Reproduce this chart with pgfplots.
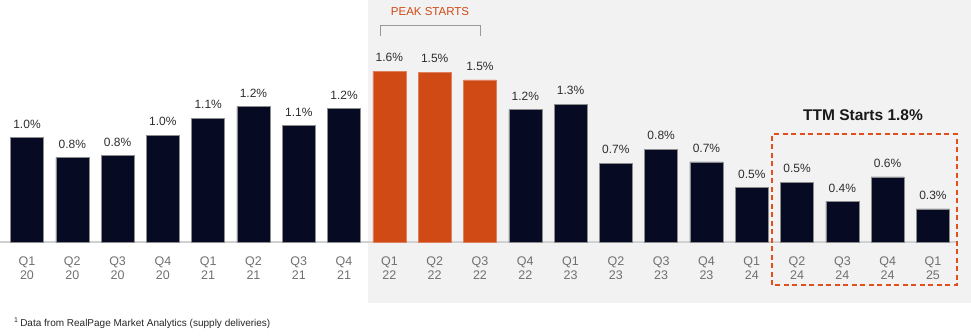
\documentclass[border=0pt]{standalone}
\usepackage{fontspec}
\setmainfont{Liberation Sans}
\usepackage{pgfplots}
\usepackage{pgfplotstable}
\pgfplotsset{compat=1.18}
\definecolor{navy}{HTML}{060B23}
\definecolor{rorange}{HTML}{D04A16}
\definecolor{boxorange}{HTML}{E0501F}
\definecolor{bggray}{HTML}{F2F2F2}
\definecolor{ticktext}{HTML}{707070}
\definecolor{valtext}{HTML}{2E2E2E}

\pgfplotstableread{
x y label
0 0.98 1.0\%
1 0.79 0.8\%
2 0.81 0.8\%
3 1.00 1.0\%
4 1.16 1.1\%
5 1.27 1.2\%
6 1.09 1.1\%
7 1.25 1.2\%
11 1.24 1.2\%
12 1.29 1.3\%
13 0.74 0.7\%
14 0.87 0.8\%
15 0.75 0.7\%
16 0.51 0.5\%
17 0.56 0.5\%
18 0.38 0.4\%
19 0.61 0.6\%
20 0.31 0.3\%
}\navydata

\pgfplotstableread{
x y label
8 1.60 1.6\%
9 1.59 1.5\%
10 1.52 1.5\%
}\peakdata

\begin{document}
\begin{tikzpicture}[x=1pt,y=1pt]
% gray background panel
\fill[bggray] (368,-60.7) rectangle (971,242);
% baseline
\draw[draw=black!18, line width=1.2pt] (0,0) -- (957,0);
\begin{axis}[
  at={(0,0)}, anchor=south west,
  scale only axis,
  width=971pt, height=242pt,
  xmin=-0.596, xmax=20.84,
  ymin=0, ymax=2.268,
  clip=false,
  axis line style={draw=none},
  tick style={draw=none},
  ytick=\empty,
  xtick={0,...,20},
  xticklabels={{Q1\\20},{Q2\\20},{Q3\\20},{Q4\\20},{Q1\\21},{Q2\\21},{Q3\\21},{Q4\\21},{Q1\\22},{Q2\\22},{Q3\\22},{Q4\\22},{Q1\\23},{Q2\\23},{Q3\\23},{Q4\\23},{Q1\\24},{Q2\\24},{Q3\\24},{Q4\\24},{Q1\\25}},
  xticklabel style={align=center, font=\fontsize{12.5}{13.8}\selectfont, text=ticktext, yshift=-7pt},
  ybar, bar width=33pt, bar shift=0pt,
  nodes near coords,
  point meta=explicit symbolic,
  every node near coord/.append style={font=\fontsize{12}{14}\selectfont, text=valtext, inner sep=0pt, anchor=south, yshift=9pt},
]
\addplot[fill=navy, draw=black!45, line width=0.5pt] table[x=x, y=y, meta=label] {\navydata};
\addplot[fill=rorange, draw=rorange!70!white, line width=0.5pt] table[x=x, y=y, meta=label] {\peakdata};
\end{axis}
% Peak starts annotation
\node[font=\fontsize{11.5}{13}\selectfont, text=rorange] at (430,230) {PEAK STARTS};
\draw[black!40, line width=0.7pt] (380,206) -- (380,217) -- (480,217) -- (480,206);
% TTM box
\draw[boxorange, line width=1.8pt, dash pattern=on 5pt off 3.5pt] (771.7,-43) rectangle (956.7,107.7);
\node[font=\bfseries\fontsize{15.5}{17}\selectfont, text=black!90] at (863,127) {TTM Starts 1.8\%};
% footnote
\node[anchor=west, font=\fontsize{10}{12}\selectfont, text=black!85, inner sep=0pt] at (14,-81) {\textsuperscript{1}\,Data from RealPage Market Analytics (supply deliveries)};
\pgfresetboundingbox
\path (0,-93) rectangle (971,242);
\end{tikzpicture}
\end{document}
